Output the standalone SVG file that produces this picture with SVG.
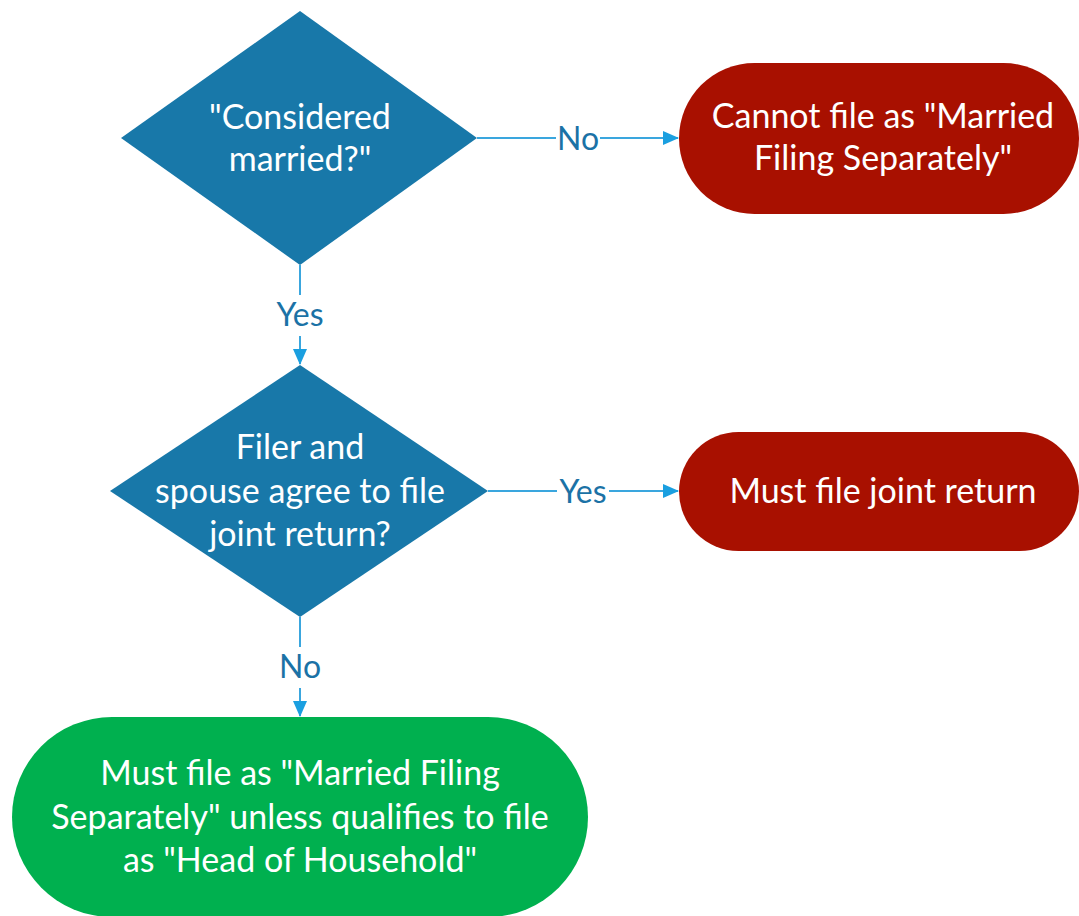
<svg xmlns="http://www.w3.org/2000/svg" width="1079" height="916" viewBox="0 0 1079 916">
<style>
.dia{fill:#1878a9}
.red{fill:#a81000}
.grn{fill:#00b04f}
.t{font-family:Lato,"Open Sans",sans-serif;font-size:34px;fill:#ffffff;text-anchor:middle}
.lbl{font-family:Lato,"Open Sans",sans-serif;font-size:32px;fill:#1b72a6;text-anchor:middle}
.ln{stroke:#3aa6de;stroke-width:2;fill:none}
</style>
<defs>
<marker id="ah" markerWidth="16" markerHeight="14" refX="15" refY="7" orient="auto" markerUnits="userSpaceOnUse">
<path d="M0,0 L16,7 L0,14 Z" fill="#1a9fe0"/>
</marker>
</defs>
<rect width="1079" height="916" fill="#ffffff"/>
<g id="connectors">
<line class="ln" x1="477" y1="138" x2="556" y2="138"/>
<line class="ln" x1="600" y1="138" x2="678" y2="138" marker-end="url(#ah)"/>
<text class="lbl" x="578" y="150">No</text>
<line class="ln" x1="300" y1="265" x2="300" y2="295"/>
<line class="ln" x1="300" y1="336" x2="300" y2="364" marker-end="url(#ah)"/>
<text class="lbl" x="300" y="326">Yes</text>
<line class="ln" x1="488" y1="491" x2="557" y2="491"/>
<line class="ln" x1="609" y1="491" x2="678" y2="491" marker-end="url(#ah)"/>
<text class="lbl" x="583" y="503">Yes</text>
<line class="ln" x1="300" y1="617" x2="300" y2="647"/>
<line class="ln" x1="300" y1="688" x2="300" y2="716" marker-end="url(#ah)"/>
<text class="lbl" x="300" y="678">No</text>
</g>
<g id="considered-married">
<polygon class="dia" points="300,11 477,138 300,265 121,138"/>
<text class="t" x="300" y="129">"Considered</text>
<text class="t" x="300" y="171">married?"</text>
</g>
<g id="cannot-file-mfs">
<rect class="red" x="679" y="63" width="400" height="151" rx="75.5" ry="75.5"/>
<text class="t" x="883" y="128">Cannot file as "Married</text>
<text class="t" x="883" y="170">Filing Separately"</text>
</g>
<g id="agree-joint">
<polygon class="dia" points="300,365 488,491 300,617 110,491"/>
<text class="t" x="300" y="459">Filer and</text>
<text class="t" x="300" y="503">spouse agree to file</text>
<text class="t" x="300" y="546">joint return?</text>
</g>
<g id="must-file-joint">
<rect class="red" x="679" y="432" width="400" height="119" rx="59.5" ry="59.5"/>
<text class="t" x="883" y="503">Must file joint return</text>
</g>
<g id="must-file-mfs">
<rect class="grn" x="12" y="717" width="576" height="200" rx="100" ry="100"/>
<text class="t" x="300" y="785">Must file as "Married Filing</text>
<text class="t" x="300" y="829">Separately" unless qualifies to file</text>
<text class="t" x="300" y="872">as "Head of Household"</text>
</g>
</svg>
